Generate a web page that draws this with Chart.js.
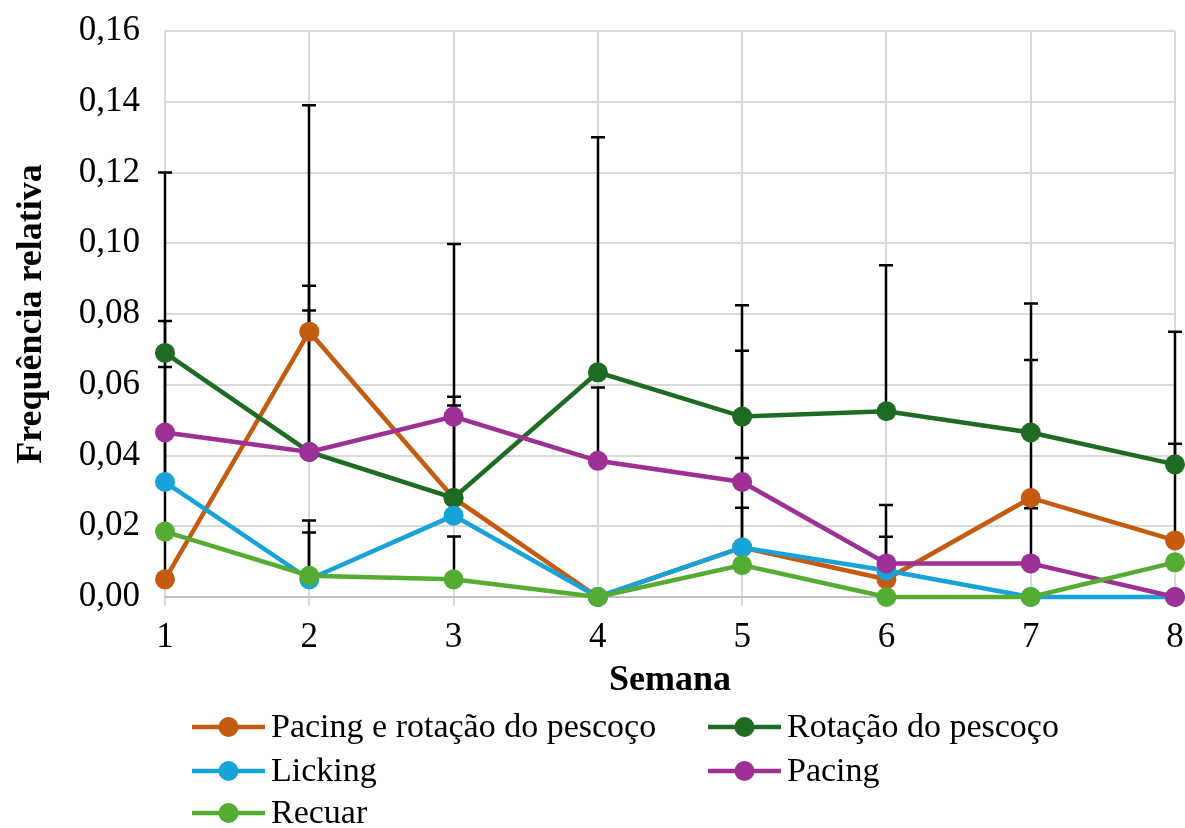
<!DOCTYPE html>
<html>
<head>
<meta charset="utf-8">
<title>Frequência relativa por semana</title>
<script src="https://cdn.jsdelivr.net/npm/chart.js@4.4.1/dist/chart.umd.min.js"></script>
<style>
  html, body { margin: 0; padding: 0; background: #ffffff; }
  canvas { display: block; }
</style>
</head>
<body>
<canvas id="chart" width="1185" height="828"></canvas>
<script>
// Weeks on the x axis
const semanas = ['1', '2', '3', '4', '5', '6', '7', '8'];

// Mean relative frequency per week, one array per behaviour
const pacingRotacao = [0.005, 0.075, 0.028, 0.000, 0.014, 0.005, 0.028, 0.016];
const rotacaoPescoco = [0.069, 0.041, 0.028, 0.0635, 0.051, 0.0525, 0.0465, 0.0375];
const licking = [0.0325, 0.005, 0.023, 0.000, 0.014, 0.0075, 0.000, 0.000];
const pacing = [0.0465, 0.041, 0.051, 0.0385, 0.0325, 0.0095, 0.0095, 0.000];
const recuar = [0.0185, 0.006, 0.005, 0.000, 0.009, 0.000, 0.000, 0.0098];

// Upper error (standard deviation) per week, same order as above
const pacingRotacaoErro = [0.041, 0.064, 0.0261, 0, 0.0112, 0, 0.039, 0.059];
const rotacaoPescocoErro = [0.051, 0.047, 0.0718, 0.0665, 0.0315, 0.0413, 0.0365, 0.0058];
const lickingErro = [0.0325, 0.0166, 0, 0, 0.0253, 0.0095, 0, 0];
const pacingErro = [0.0315, 0.040, 0.0056, 0.0207, 0.0371, 0.0165, 0.0156, 0];
const recuarErro = [0, 0.0122, 0.0121, 0, 0, 0, 0, 0];

// Series names and colours
const nomes = ['Pacing e rotação do pescoço', 'Rotação do pescoço', 'Licking', 'Pacing', 'Recuar'];
const cores = ['#C55A11', '#1E6B24', '#17A3DA', '#9E2F95', '#54AC33'];

// Axis range
const yMin = 0, yMax = 0.16, yStep = 0.02;

const FONT = '"Liberation Serif", "Times New Roman", serif';

const valores = [pacingRotacao, rotacaoPescoco, licking, pacing, recuar];
const erros = [pacingRotacaoErro, rotacaoPescocoErro, lickingErro, pacingErro, recuarErro];

const datasets = nomes.map((nome, i) => ({
  label: nome,
  data: valores[i],
  errorUp: erros[i],
  borderColor: cores[i],
  backgroundColor: cores[i],
  pointBackgroundColor: cores[i],
  pointBorderColor: cores[i],
  pointBorderWidth: 0,
  pointRadius: 10,
  borderWidth: 4.5,
  tension: 0,
  clip: false,
  order: nomes.length - 1 - i   // later series are painted on top
}));

// Upper error bars with caps, drawn beneath the lines and markers
const errorBars = {
  id: 'errorBars',
  beforeDatasetsDraw(chart) {
    const { ctx, scales: { x, y } } = chart;
    ctx.save();
    ctx.strokeStyle = '#000000';
    ctx.lineWidth = 2.5;
    chart.data.datasets.forEach(ds => {
      ds.errorUp.forEach((e, i) => {
        if (!e) return;
        const px = Math.round(x.getPixelForValue(i));
        const y0 = y.getPixelForValue(ds.data[i]);
        const y1 = y.getPixelForValue(ds.data[i] + e);
        ctx.beginPath();
        ctx.moveTo(px, y0);
        ctx.lineTo(px, y1);
        ctx.moveTo(px - 7, y1);
        ctx.lineTo(px + 7, y1);
        ctx.stroke();
      });
    });
    ctx.restore();
  }
};

// Two-column legend under the axis title
const legendaColunas = {
  id: 'legendaColunas',
  afterDraw(chart) {
    const ctx = chart.ctx;
    const colX = [192, 708];
    const rowY = [727, 771, 813];
    const lineLen = 73;
    ctx.save();
    ctx.font = '34px ' + FONT;
    ctx.textBaseline = 'middle';
    ctx.textAlign = 'left';
    chart.data.datasets.forEach((ds, i) => {
      const x0 = colX[i % 2];
      const yy = rowY[Math.floor(i / 2)];
      ctx.strokeStyle = ds.borderColor;
      ctx.lineWidth = 4.5;
      ctx.beginPath();
      ctx.moveTo(x0, yy);
      ctx.lineTo(x0 + lineLen, yy);
      ctx.stroke();
      ctx.fillStyle = ds.borderColor;
      ctx.beginPath();
      ctx.arc(x0 + lineLen / 2, yy, 10, 0, Math.PI * 2);
      ctx.fill();
      ctx.fillStyle = '#000000';
      ctx.fillText(ds.label, x0 + lineLen + 6, yy + 1);
    });
    ctx.restore();
  }
};

new Chart(document.getElementById('chart'), {
  type: 'line',
  data: { labels: semanas, datasets },
  plugins: [errorBars, legendaColunas],
  options: {
    responsive: false,
    animation: false,
    devicePixelRatio: 1,
    layout: { padding: { left: 0, right: 10, top: 31, bottom: 126 } },
    plugins: {
      legend: { display: false },
      tooltip: { enabled: false }
    },
    scales: {
      x: {
        type: 'category',
        offset: false,
        grid: { color: '#d9d9d9', lineWidth: 2, drawTicks: true, tickLength: 9, tickColor: '#d9d9d9' },
        border: { color: '#bfbfbf', width: 2 },
        ticks: {
          font: { family: FONT, size: 35 },
          color: '#000000',
          padding: 11,
          maxRotation: 0,
          autoSkip: false
        },
        title: {
          display: true,
          text: 'Semana',
          font: { family: FONT, size: 36, weight: 'bold' },
          color: '#000000',
          padding: 0
        },
        afterFit(scale) {
          scale.height = 105;
          scale.paddingLeft = 0;
          scale.paddingRight = 0;
        }
      },
      y: {
        min: yMin,
        max: yMax,
        grid: { color: '#d9d9d9', lineWidth: 2, drawTicks: false },
        border: { display: false },
        ticks: {
          stepSize: yStep,
          font: { family: FONT, size: 35 },
          color: '#000000',
          padding: 25,
          callback: v => v.toFixed(2).replace('.', ',')
        },
        title: {
          display: true,
          text: 'Frequência relativa',
          font: { family: FONT, size: 36, weight: 'bold' },
          color: '#000000',
          padding: { top: 10, bottom: 0 }
        },
        afterFit(scale) {
          scale.width = 165;
          scale.paddingTop = 0;
          scale.paddingBottom = 0;
        }
      }
    }
  }
});
</script>
</body>
</html>
